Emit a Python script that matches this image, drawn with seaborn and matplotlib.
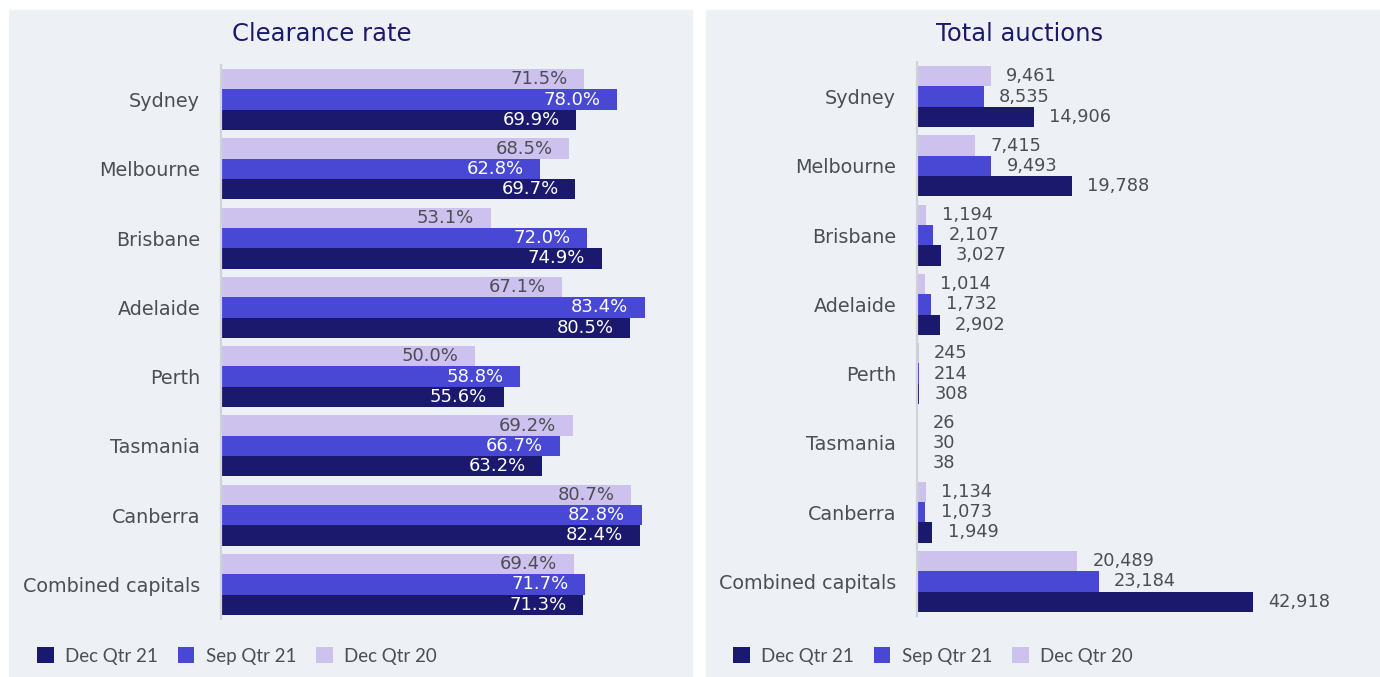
import matplotlib
matplotlib.use("Agg")
import matplotlib.pyplot as plt
from matplotlib.patches import Rectangle, Patch
import seaborn as sns
import pandas as pd

# --- data ---
cities = ["Sydney", "Melbourne", "Brisbane", "Adelaide", "Perth",
          "Tasmania", "Canberra", "Combined capitals"]
periods = ["Dec Qtr 21", "Sep Qtr 21", "Dec Qtr 20"]

clear_dec21 = [69.9, 69.7, 74.9, 80.5, 55.6, 63.2, 82.4, 71.3]
clear_sep21 = [78.0, 62.8, 72.0, 83.4, 58.8, 66.7, 82.8, 71.7]
clear_dec20 = [71.5, 68.5, 53.1, 67.1, 50.0, 69.2, 80.7, 69.4]

auct_dec21 = [14906, 19788, 3027, 2902, 308, 38, 1949, 42918]
auct_sep21 = [8535, 9493, 2107, 1732, 214, 30, 1073, 23184]
auct_dec20 = [9461, 7415, 1194, 1014, 245, 26, 1134, 20489]

colors = {"Dec Qtr 21": "#1b196d", "Sep Qtr 21": "#4848d5", "Dec Qtr 20": "#cdc2ee"}
bg = "#edf1f5"
navy = "#1b196d"
grey_txt = "#4d4d55"


def long_form(a, b, c):
    df = pd.DataFrame({"city": cities, periods[0]: a, periods[1]: b, periods[2]: c})
    return df.melt(id_vars="city", var_name="period", value_name="value")


clear_df = long_form(clear_dec21, clear_sep21, clear_dec20)
auct_df = long_form(auct_dec21, auct_sep21, auct_dec20)

sns.set_theme(style="white")
plt.rcParams["font.family"] = ["DejaVu Sans"]

fig = plt.figure(figsize=(13.8, 6.77), dpi=100)
W, H = 1380, 677

# panel backgrounds
fig.patches.append(Rectangle((9 / W, 0), (692 - 9) / W, (677 - 10) / H,
                             transform=fig.transFigure, color=bg, zorder=-10))
fig.patches.append(Rectangle((706 / W, 0), (1380 - 706) / W, (677 - 10) / H,
                             transform=fig.transFigure, color=bg, zorder=-10))

ax_bottom = 1 - 619 / H
ax_height = (619 - 65) / H
ax1 = fig.add_axes([221 / W, ax_bottom, 459 / W, ax_height])
ax2 = fig.add_axes([917 / W, ax_bottom + 3 / H, 453 / W, ax_height])

hue_order = ["Dec Qtr 20", "Sep Qtr 21", "Dec Qtr 21"]

for ax, df in [(ax1, clear_df), (ax2, auct_df)]:
    sns.barplot(data=df, y="city", x="value", hue="period", hue_order=hue_order,
                palette=colors, orient="h", width=0.88, saturation=1,
                errorbar=None, legend=False, ax=ax, linewidth=0)
    ax.patch.set_alpha(0)
    for s in ["top", "right", "bottom"]:
        ax.spines[s].set_visible(False)
    ax.spines["left"].set_color("#d0d4d8")
    ax.spines["left"].set_linewidth(1.6)
    ax.set_xticks([])
    ax.set_xlabel("")
    ax.set_ylabel("")
    ax.tick_params(axis="y", length=0, pad=15, labelsize=13.8, labelcolor=grey_txt)

ax1.set_xlim(0, 90.3)
ax2.set_xlim(0, 57860)

# clearance labels inside the bar ends
for cont, period in zip(ax1.containers, hue_order):
    col = grey_txt if period == "Dec Qtr 20" else "white"
    texts = ax1.bar_label(cont, fmt="{:.1f}%", padding=-12, fontsize=13, color=col)
    for t in texts:
        t.set_ha("right")

# auction labels outside the bar ends
for cont in ax2.containers:
    ax2.bar_label(cont, fmt="{:,.0f}", padding=11, fontsize=12.8, color=grey_txt)

# titles
fig.text(322 / W, 1 - 34 / H, "Clearance rate", ha="center", va="center",
         fontsize=17.5, color=navy)
fig.text(1020 / W, 1 - 34 / H, "Total auctions", ha="center", va="center",
         fontsize=17.5, color=navy)

# legends
handles = [Patch(facecolor=colors[p], edgecolor="none", label=p) for p in periods]
for x0 in (20, 716):
    fig.legend(handles=handles, loc="center left", bbox_to_anchor=(x0 / W, 1 - 656 / H),
               ncol=3, frameon=False, handlelength=0.9, handleheight=0.9,
               handletextpad=0.6, columnspacing=1.05, labelcolor=grey_txt,
               prop={"family": ["Lato", "DejaVu Sans"], "size": 13.5})

fig.savefig("out.png", dpi=100, facecolor="white")
